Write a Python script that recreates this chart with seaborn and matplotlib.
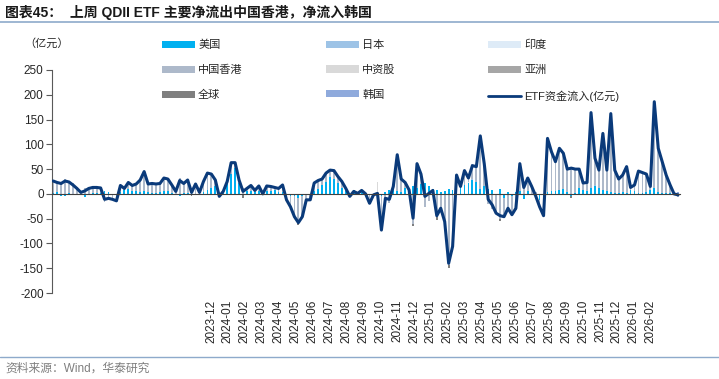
import numpy as np
import pandas as pd
import matplotlib
matplotlib.use("Agg")
import matplotlib.pyplot as plt
from matplotlib.patches import Patch
from matplotlib.lines import Line2D
import seaborn as sns

# ---------------- data ----------------
title = "图表45：  上周 QDII ETF 主要净流出中国香港，净流入韩国"
source = "资料来源：Wind，华泰研究"
unit_label = "（亿元）"

categories = ["美国", "日本", "印度", "中国香港", "中资股", "亚洲", "全球", "韩国"]
line_label = "ETF资金流入(亿元)"

# ETF total net inflow (weekly, 亿元)
total_flow = [26, 23, 21, 26, 24, 18, 11, 3, 6, 11, 13, 13, 12, -11, -9, -11, -14, 17, 11, 23,
              17, 20, 28, 45, 20, 21, 20, 21, 32, 30, 18, 5, 27, 21, 28, 3, 20, 3, 25, 42,
              40, 28, -5,
              5, 25, 63, 63, 28, 5, 11, 17, 7, 16, 0, 16, 15, 13, 11, 18, -12, -26, -46, -58,
              -46, -12, -12, 22, 27, 30, 42, 48, 47, 35, 25, 11, -5, 5, 1, 7, 0, -19,
              -2, 1, -73, -9, -11, 15, 79, 30, 23, 8, -49, 61, 40, -5, 1, 7, -44, -29, -56, -140,
              -106, 38, 15, 47, 32, 57, 55, 117, 61, -11, -22, -39, -44, -46, -29, -42, -29, 61, 13, 32,
              15, -4, -26, -44, 112, 85, 65, 92, 82, 50, 52, 50, 50, 22, 23, 164, 72, 48, 122, 48,
              162, 48, 30, 38, 55, 13, 18, 46, 43, 40, 15, 186, 92, 65, 38, 18, 0, -2]

us_flow = [2, 3, -4, -4, 2, -3, -3, 0, -6, 0, 2, 2, 2, 6, 3, 0, 0, 3, 8, 10,
           6, 6, 3, 5, 3, 2, 2, 3, 5, 5, 2, 0, -5, 2, 2, 3, 0, 0, 4, 8,
           12, 15, -3,
           3, 20, 40, 52, 22, -3, 5, 6, 3, 5, 0, 6, 5, 8, 3, 3, -3, -5, -4, -8,
           -5, -3, 0, 5, 10, 18, 25, 35, 30, 22, 12, 5, -3, 8, 3, 4, 2, -3,
           0, -2, -5, 3, 8, 10, 5, 3, 12, 10, 15, 12, 20, 22, 15, 10, 8, 3, 5, 10,
           8, 5, 15, 18, 22, 28, 25, 10, 15, 10, 8, 0, 10, -8, 3, -5, 3, 5, -10, 5,
           0, -8, -12, -15, 3, 5, 6, 8, 10, 3, -5, 2, 12, 8, 5, 12, 15, 12, 8, 5,
           3, 2, 2, 3, 2, 8, 5, 2, 2, 3, 8, 12, 3, 2, 2, 1, -2, -2]

hk_flow = [24, 20, 25, 30, 22, 21, 14, 3, 12, 11, 11, 11, 10, -17, -12, -8, -11, 14, 3, 13,
           11, 14, 25, 40, 17, 19, 18, 18, 27, 25, 16, 5, 32, 19, 26, 4, 20, 3, 21, 34,
           28, 13, -2,
           2, 5, 23, 11, 6, 12, 6, 11, 4, 11, 0, 10, 10, 5, 8, 15, -9, -21, -42, -50,
           -41, -9, -12, 17, 17, 12, 17, 13, 17, 13, 13, 6, -2, -3, -2, 3, -2, -16,
           -2, 3, -64, -12, -19, 5, 74, 27, 11, -2, -60, 49, 20, -27, -14, -3, -47, -32, -61, -144,
           -114, 33, 0, 29, 10, 29, 30, 107, 46, -21, -30, -39, -51, -38, -32, -37, -32, 56, 23, 27,
           15, 4, -14, -29, 109, 80, 59, 84, 72, 47, 54, 48, 38, 14, 18, 152, 57, 36, 114, 43,
           159, 46, 28, 35, 53, 5, 13, 44, 41, 37, 7, 174, 89, 63, 36, 17, 0, -4]

# minor categories: week index -> value
japan_flow = {70: 3, 106: 3, 137: 3}
india_flow = {105: 2}
csi_flow = {82: 22}
asia_flow = {29: 2, 60: -2, 82: -18, 101: -3}
global_flow = {15: -4, 16: -4, 35: -5, 48: -6, 62: -4, 83: -4, 91: -4, 97: -5, 100: -6, 113: -3, 131: -3}
korea_flow = {157: 2, 158: 4}

x_labels = ["2023-12", "2024-01", "2024-02", "2024-03", "2024-04", "2024-05", "2024-06",
            "2024-07", "2024-08", "2024-09", "2024-10", "2024-11", "2024-12", "2025-01",
            "2025-02", "2025-03", "2025-04", "2025-05", "2025-06", "2025-07", "2025-08",
            "2025-09", "2025-10", "2025-11", "2025-12", "2026-01", "2026-02"]

colors = {"美国": "#00B0F0", "日本": "#9DC3E6", "印度": "#DEEBF7", "中国香港": "#ADB9CA",
          "中资股": "#D9D9D9", "亚洲": "#A6A6A6", "全球": "#7F7F7F", "韩国": "#8FAADC"}
line_color = "#0A3A7A"

# ---------------- build ----------------
N = len(total_flow)
idx = np.arange(N)
dates = pd.date_range("2023-02-03", periods=N, freq="W-FRI")


def dense(d):
    a = np.zeros(N)
    for k, v in d.items():
        a[k] = v
    return a


series = {
    "美国": np.array(us_flow, float),
    "日本": dense(japan_flow),
    "印度": dense(india_flow),
    "中国香港": np.array(hk_flow, float),
    "中资股": dense(csi_flow),
    "亚洲": dense(asia_flow),
    "全球": dense(global_flow),
    "韩国": dense(korea_flow),
}

sns.set_theme(style="white")
plt.rcParams["font.family"] = ["Liberation Sans", "Noto Sans CJK SC", "DejaVu Sans"]
plt.rcParams["axes.unicode_minus"] = False

W, H = 719, 379
fig = plt.figure(figsize=(W / 100, H / 100), dpi=100)
fig.patch.set_facecolor("white")
L, R, T, B = 52, 680, 70, 293
ax = fig.add_axes([L / W, 1 - B / H, (R - L) / W, (B - T) / H])

pos_b = np.zeros(N)
neg_b = np.zeros(N)
for c in categories:
    v = series[c]
    p = np.where(v > 0, v, 0)
    n = np.where(v < 0, v, 0)
    ax.bar(idx, p, bottom=pos_b, width=0.45, color=colors[c], linewidth=0, zorder=2)
    ax.bar(idx, n, bottom=neg_b, width=0.45, color=colors[c], linewidth=0, zorder=2)
    pos_b += p
    neg_b += n

df = pd.DataFrame({"x": idx, "y": total_flow})
sns.lineplot(data=df, x="x", y="y", ax=ax, color=line_color, linewidth=2.2, zorder=3, legend=False)

ax.set_xlim(-0.3, N - 0.5)
ax.set_ylim(-200, 250)
ax.set_yticks(np.arange(-200, 251, 50))
ax.set_xlabel("")
ax.set_ylabel("")
for s in ["top", "right"]:
    ax.spines[s].set_visible(False)
ax.spines["left"].set_color("#595959")
ax.spines["left"].set_linewidth(0.8)
ax.spines["bottom"].set_position(("data", 0))
ax.spines["bottom"].set_color("#404040")
ax.spines["bottom"].set_linewidth(0.8)
ax.spines["bottom"].set_zorder(4)

month_ticks = [i for i in range(1, N) if dates[i].month != dates[i - 1].month]
ax.set_xticks(month_ticks)
ax.set_xticklabels([])
ax.tick_params(axis="x", direction="out", length=3, width=0.6, color="#404040")
ax.tick_params(axis="y", direction="out", length=4, width=0.8, color="#595959",
               labelsize=8.5, labelcolor="#262626", pad=2, left=True)

label_pos = np.linspace(39.9, 151.1, len(x_labels))
sec = ax.secondary_xaxis(0)
sec.set_xticks(label_pos)
sec.set_xticklabels(x_labels, rotation=90, fontsize=8.5, color="#262626")
sec.tick_params(length=0, pad=5)
sec.spines["bottom"].set_visible(False)

# title, unit, source, rules
fig.text(5 / W, 1 - 12 / H, title, fontsize=10, fontweight="bold", va="center", ha="left", color="#1a1a1a")
fig.add_artist(Line2D([0, 1], [1 - 22 / H, 1 - 22 / H], transform=fig.transFigure, color="#8EAACB", lw=1.2))
fig.add_artist(Line2D([0, 1], [1 - 357 / H, 1 - 357 / H], transform=fig.transFigure, color="#8EAACB", lw=1.0))
fig.text(5 / W, 1 - 369 / H, source, fontsize=8.5, va="center", ha="left", color="#7F7F7F")
fig.text(24 / W, 1 - 43 / H, unit_label, fontsize=8, va="center", ha="left", color="#262626")

# legends: three columns
legend_cols = [["美国", "中国香港", "全球"], ["日本", "中资股", "韩国"], ["印度", "亚洲"]]
col_x = [162, 326, 488]
for ci, names in enumerate(legend_cols):
    handles = [Patch(facecolor=colors[n], edgecolor="none", label=n) for n in names]
    if ci == 2:
        handles.append(Line2D([0], [0], color=line_color, lw=2.0, label=line_label))
    fig.legend(handles=handles, loc="upper left", bbox_to_anchor=(col_x[ci] / W, 1 - 40 / H),
               frameon=False, fontsize=8, handlelength=2.95, handleheight=0.6,
               handletextpad=0.3, labelspacing=1.33, borderpad=0, borderaxespad=0)

fig.savefig("out.png", dpi=100, facecolor="white")
